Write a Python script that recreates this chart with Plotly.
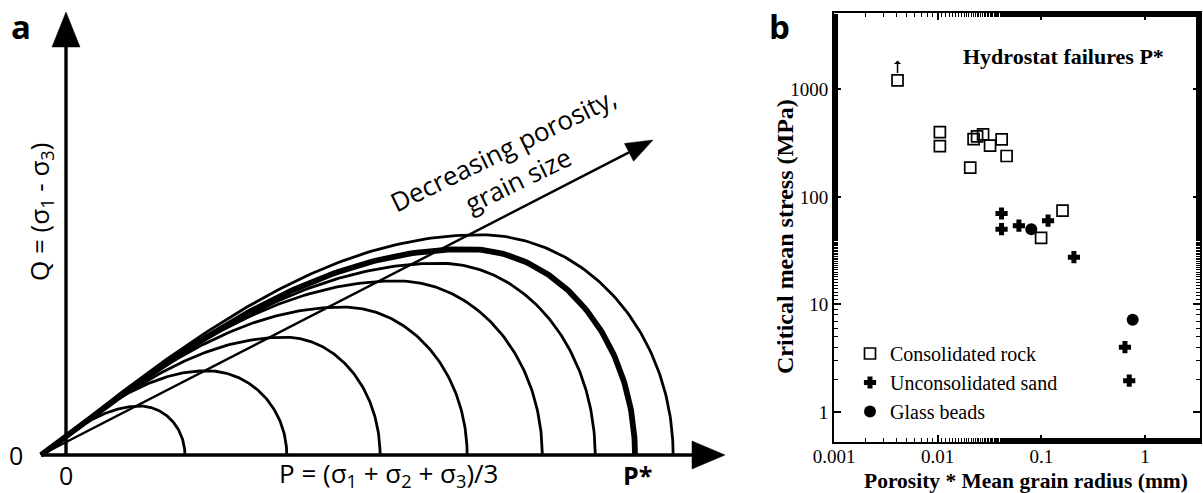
import numpy as np
import plotly.graph_objects as go

# ---------------- Panel a: schematic yield caps (P normalised so that P* = 1)
cap_p_end = [0.209, 0.388, 0.552, 0.705, 0.837, 0.930, 1.000, 1.067]
cap_p_peak = [0.130, 0.248, 0.385, 0.487, 0.582, 0.657, 0.705, 0.728]
cap_q_peak = [0.086, 0.148, 0.207, 0.260, 0.306, 0.337, 0.362, 0.387]
cap_is_pstar = [False, False, False, False, False, False, True, False]
p_tensile = -0.044

# ---------------- Panel b: hydrostat failures P*
rock_x = [0.0041, 0.0105, 0.0105, 0.0222, 0.0240, 0.0274, 0.032, 0.0414, 0.0462, 0.0206, 0.160, 0.0994]
rock_y = [1210, 400, 296, 345, 365, 381, 300, 342, 240, 187, 74.5, 41.5]
sand_x = [0.0413, 0.0413, 0.0607, 0.116, 0.206, 0.64, 0.704]
sand_y = [70, 50, 54, 60, 27.5, 4.0, 1.95]
beads_x = [0.080, 0.76]
beads_y = [50, 7.2]
x_tickvals = [0.001, 0.01, 0.1, 1]
x_ticktext = ["0.001", "0.01", "0.1", "1"]
y_tickvals = [1, 10, 100, 1000]
y_ticktext = ["1", "10", "100", "1000"]

W, H = 1203, 493
PX = 569.0            # pixels per unit in panel a (both axes)
A_ORIGIN = (66, 455)  # pixel position of P=0, Q=0
A_RIGHT_PX = 740

fig = go.Figure()


def cap_curve(p0, pp, qp, pe, n=90):
    s = np.linspace(0, 1, n)
    p_rise = p0 + s * (pp - p0)
    q_rise = qp * np.sin(np.pi / 2 * s)
    th = np.linspace(0, np.pi / 2, n)
    p_fall = pp + (pe - pp) * np.sin(th)
    q_fall = qp * np.cos(th)
    return np.concatenate([p_rise, p_fall[1:]]), np.concatenate([q_rise, q_fall[1:]])


def arrowhead(tip, direction, length_px, half_px):
    d = np.array(direction, float)
    u = d / np.linalg.norm(d)
    nrm = np.array([-u[1], u[0]])
    t = np.array(tip, float)
    base = t - u * length_px / PX
    c1 = base + nrm * half_px / PX
    c2 = base - nrm * half_px / PX
    return [t[0], c1[0], c2[0], t[0]], [t[1], c1[1], c2[1], t[1]], base


black = "black"
p_axis_tip = (725 - A_ORIGIN[0]) / PX
q_axis_tip = (A_ORIGIN[1] - 12) / PX
hx, hy, hbase = arrowhead((p_axis_tip, 0), (1, 0), 33, 14)
vx, vy, vbase = arrowhead((0, q_axis_tip), (0, 1), 35, 14)
diag_tip = ((653 - A_ORIGIN[0]) / PX, (A_ORIGIN[1] - 140) / PX)
dx, dy, dbase = arrowhead(diag_tip, (diag_tip[0] - p_tensile, diag_tip[1]), 27, 10)

line_specs = [
    ([p_tensile, hbase[0]], [0, 0], 3.4),
    ([0, 0], [0, vbase[1]], 3.4),
    ([p_tensile, dbase[0]], [0, dbase[1]], 2.4),
]
for xs, ys, w in line_specs:
    fig.add_trace(go.Scatter(x=xs, y=ys, mode="lines", line=dict(color=black, width=w),
                             showlegend=False, hoverinfo="skip", xaxis="x", yaxis="y"))
for xs, ys in [(hx, hy), (vx, vy), (dx, dy)]:
    fig.add_trace(go.Scatter(x=xs, y=ys, mode="lines", fill="toself", fillcolor=black,
                             line=dict(color=black, width=0.5), showlegend=False,
                             hoverinfo="skip", xaxis="x", yaxis="y"))

for pe, pp, qp, thick in zip(cap_p_end, cap_p_peak, cap_q_peak, cap_is_pstar):
    cx, cy = cap_curve(p_tensile, pp, qp, pe)
    fig.add_trace(go.Scatter(x=cx, y=cy, mode="lines",
                             line=dict(color=black, width=5.8 if thick else 2.8),
                             showlegend=False, hoverinfo="skip", xaxis="x", yaxis="y"))

# ---------------- Panel b traces
fig.add_trace(go.Scatter(x=rock_x, y=rock_y, mode="markers", name="Consolidated rock",
                         marker=dict(symbol="square-open", size=11, color=black, line=dict(width=1.7)),
                         xaxis="x2", yaxis="y2"))
fig.add_trace(go.Scatter(x=sand_x, y=sand_y, mode="markers", name="Unconsolidated sand",
                         marker=dict(symbol="cross", size=9, color=black, line=dict(width=1.4, color=black)),
                         xaxis="x2", yaxis="y2"))
fig.add_trace(go.Scatter(x=beads_x, y=beads_y, mode="markers", name="Glass beads",
                         marker=dict(symbol="circle", size=12, color=black),
                         xaxis="x2", yaxis="y2"))

sans = "Open Sans"
serif = "Liberation Serif"


def label(text, x, y, xref, yref, family, size, angle=0):
    return dict(text=text, x=x, y=y, xref=xref, yref=yref, textangle=angle,
                xanchor="center", yanchor="middle", showarrow=False,
                font=dict(family=family, size=size, color=black))


ann = [
    label("<b>a</b>", 21 / W, 1 - 27 / H, "paper", "paper", sans, 33),
    label("<b>b</b>", 779 / W, 1 - 26 / H, "paper", "paper", sans, 33),
    label("Q = (σ<sub>1</sub> - σ<sub>3</sub>)", (40 - A_ORIGIN[0]) / PX,
          (A_ORIGIN[1] - 212) / PX, "x", "y", sans, 26, -90),
    label("0", (16 - A_ORIGIN[0]) / PX, 0, "x", "y", sans, 25),
    label("0", 0, -20 / PX, "x", "y", sans, 25),
    label("P = (σ<sub>1</sub> + σ<sub>2</sub> + σ<sub>3</sub>)/3", (388 - A_ORIGIN[0]) / PX,
          -19 / PX, "x", "y", sans, 26),
    label("<b>P*</b>", 1.005, -20 / PX, "x", "y", sans, 25),
    label("Decreasing porosity,<br>grain size", (510 - A_ORIGIN[0]) / PX,
          (A_ORIGIN[1] - 165) / PX, "x", "y", sans, 26, -26),
    label("<b>Hydrostat failures P*</b>", 1063 / W, 1 - 57 / H, "paper", "paper", serif, 22),
    label("<b>Critical mean stress (MPa)</b>", 785 / W, 1 - 237 / H, "paper", "paper", serif, 24, -90),
    label("<b>Porosity * Mean grain radius (mm)</b>", 1026 / W, 1 - 481 / H, "paper", "paper", serif, 21.5),
]
# lower-bound arrow on first rock point
ann.append(dict(text="", x=np.log10(rock_x[0]), y=np.log10(rock_y[0]), xref="x2", yref="y2",
                showarrow=True, ax=0, ay=14, axref="pixel", ayref="pixel", yshift=20,
                arrowhead=1, arrowsize=0.8, arrowwidth=1.5, arrowcolor=black))

axis_b = dict(type="log", showline=True, linecolor=black, linewidth=2, mirror="ticks",
              ticks="inside", ticklen=7, tickwidth=1.5, tickcolor=black, automargin=False,
              minor=dict(ticks="inside", ticklen=4, tickwidth=1, tickcolor=black, showgrid=False),
              showgrid=False, zeroline=False, tickfont=dict(family=serif, size=19, color=black))

fig.update_layout(
    template="none",
    width=W, height=H, margin=dict(l=0, r=0, t=0, b=0, pad=0, autoexpand=False),
    paper_bgcolor="white", plot_bgcolor="white", hovermode=False,
    xaxis=dict(domain=[0, A_RIGHT_PX / W], range=[-A_ORIGIN[0] / PX, (A_RIGHT_PX - A_ORIGIN[0]) / PX],
               visible=False, anchor="y", automargin=False, showgrid=False, zeroline=False),
    yaxis=dict(domain=[0, 1], range=[-(H - A_ORIGIN[1]) / PX, A_ORIGIN[1] / PX],
               visible=False, anchor="x", automargin=False, showgrid=False, zeroline=False),
    xaxis2=dict(axis_b, domain=[834 / W, 1200 / W], range=[-3, 0.53], anchor="y2",
                tickvals=x_tickvals, ticktext=x_ticktext, ticklabelstandoff=-4),
    yaxis2=dict(axis_b, domain=[1 - 442 / H, 1 - 13 / H], range=[-0.28, 3.71], anchor="x2",
                tickvals=y_tickvals, ticktext=y_ticktext),
    legend=dict(x=850 / W, y=1 - 334 / H, xanchor="left", yanchor="top",
                font=dict(family=serif, size=20, color=black), bgcolor="rgba(0,0,0,0)",
                borderwidth=0, tracegroupgap=0),
    annotations=ann,
    showlegend=True,
)

fig.write_html("out.html")
